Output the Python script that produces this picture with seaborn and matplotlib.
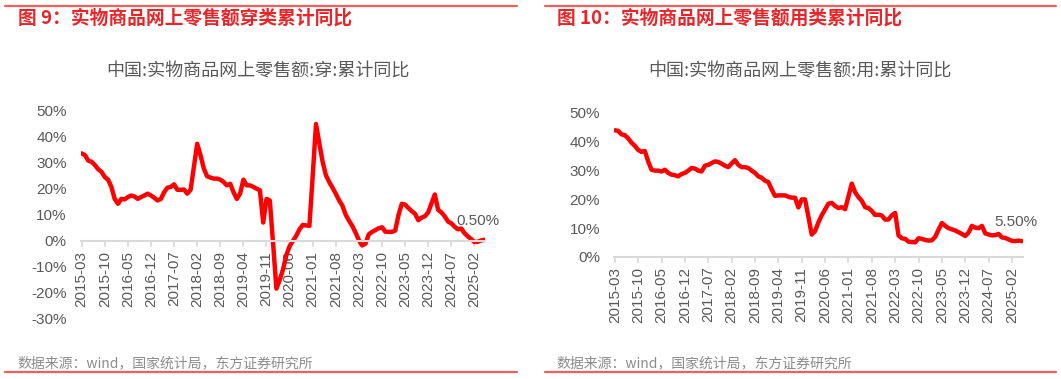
import matplotlib
matplotlib.use('Agg')
import matplotlib.pyplot as plt
from matplotlib.lines import Line2D
import seaborn as sns
import pandas as pd
import numpy as np

sns.set_theme(style='white')
plt.rcParams['font.family'] = ['Liberation Sans', 'Noto Sans CJK SC']
plt.rcParams['axes.unicode_minus'] = False

# ====== data (monthly, 2015-03 .. 2025-05)
months = pd.date_range('2015-03-01', '2025-05-01', freq='MS').strftime('%Y-%m').tolist()

wear = [33.7, 33.0, 30.9, 30.5, 29.2, 27.6, 26.6, 24.6, 23.6, 20.8,
        16.2, 14.3, 16.2, 16.0, 16.9, 17.5, 17.1, 16.2, 16.9, 17.5,
        18.2, 17.5, 16.6, 15.6, 16.2, 18.8, 20.5, 20.8, 21.8, 19.7,
        19.7, 19.8, 18.2, 19.7, 28.5, 37.4, 33.0, 27.9, 24.9, 24.4,
        24.0, 24.0, 23.6, 22.7, 21.4, 22.0, 18.8, 16.2, 18.2, 23.6,
        21.4, 21.4, 20.8, 20.1, 19.5, 7.1, 16.2, 15.6, -1.0, -18.3,
        -15.0, -11.0, -5.5, -2.0, 0.0, 2.0, 4.5, 6.2, 6.0, 5.8,
        25.0, 45.0, 37.6, 30.5, 25.3, 22.7, 20.5, 18.2, 15.6, 13.6,
        10.1, 7.8, 5.8, 3.2, 0.3, -1.7, -1.0, 2.6, 3.5, 4.2,
        4.9, 5.3, 3.6, 3.5, 3.5, 4.0, 10.0, 14.3, 14.0, 12.7,
        11.5, 10.5, 8.0, 9.0, 9.5, 11.0, 14.5, 17.9, 12.0, 11.0,
        9.5, 7.5, 6.8, 5.5, 4.5, 4.8, 3.0, 1.8, 0.8, -0.4,
        -0.3, 0.2, 0.5]

use = [44.0, 43.8, 42.6, 42.3, 41.2, 39.7, 38.6, 37.2, 36.5, 36.8,
       33.2, 30.3, 30.0, 30.0, 29.7, 30.3, 29.2, 28.6, 28.4, 28.0,
       28.8, 29.2, 30.0, 30.9, 30.7, 30.0, 29.7, 31.7, 32.0, 32.6,
       33.2, 33.0, 32.4, 31.7, 31.2, 32.5, 33.6, 32.0, 31.2, 31.2,
       30.9, 30.0, 29.2, 28.0, 27.5, 26.5, 26.0, 23.5, 21.2, 21.4,
       21.4, 21.4, 20.9, 20.6, 20.6, 17.2, 20.0, 20.0, 14.0, 7.8,
       9.0, 12.0, 14.5, 16.5, 18.5, 18.8, 17.7, 17.0, 17.3, 16.6,
       21.0, 25.5, 22.5, 20.8, 19.5, 17.3, 17.0, 16.0, 14.6, 14.7,
       14.4, 13.0, 13.0, 14.5, 15.3, 7.5, 6.5, 6.3, 5.3, 5.2,
       5.1, 6.5, 6.3, 5.9, 5.7, 5.8, 7.0, 9.5, 11.8, 10.8,
       10.0, 9.6, 9.2, 8.6, 8.0, 7.3, 8.5, 10.8, 10.2, 10.0,
       10.8, 8.2, 7.8, 7.5, 7.6, 8.0, 6.8, 6.6, 6.1, 5.6,
       5.5, 5.7, 5.5]

panels = [
    dict(values=wear, heading='图 9：实物商品网上零售额穿类累计同比',
         title='中国:实物商品网上零售额:穿:累计同比', ylim=(-30, 50), end_label='0.50%'),
    dict(values=use, heading='图 10：实物商品网上零售额用类累计同比',
         title='中国:实物商品网上零售额:用:累计同比', ylim=(0, 50), end_label='5.50%'),
]

W, H = 1061, 379
fig = plt.figure(figsize=(W / 100, H / 100), dpi=100)

def fx(px):
    return px / W

def fy(py):
    return 1 - py / H

# axes boxes in pixels: left, right, top (50%), bottom (ylim[0])
boxes = [(80.7, 485.3, 111, 319), (613.8, 1023, 113, 257)]
panel_x = [(5, 517), (545, 1056)]
heading_x = [18, 557]
title_cx = [258, 800]

RED = '#ff0000'
GREY_TXT = '#595959'
AX_GREY = '#d9d9d9'
FRAME_RED = '#f0605a'

for p, box, (px0, px1), hx, tcx in zip(panels, boxes, panel_x, heading_x, title_cx):
    l, r, t, b = box
    ax = fig.add_axes([fx(l), fy(b), fx(r - l), fy(t) - fy(b)])
    df = pd.DataFrame({'idx': np.arange(len(months)), 'value': p['values']})
    sns.lineplot(data=df, x='idx', y='value', color=RED, linewidth=3.2, ax=ax,
                 solid_joinstyle='round', solid_capstyle='round')
    ax.set_xlim(-0.3, len(months) - 0.7)
    ax.set_ylim(*p['ylim'])
    yt = np.arange(p['ylim'][0], 51, 10)
    ax.set_yticks(yt)
    ax.set_yticklabels([f'{v}%' for v in yt])
    ticks = np.arange(0, len(months), 7)
    ax.set_xticks(ticks)
    ax.set_xticklabels([months[i] for i in ticks])
    ax.set_xlabel('')
    ax.set_ylabel('')
    for s in ['top', 'right', 'left']:
        ax.spines[s].set_visible(False)
    ax.spines['bottom'].set_position(('data', 0))
    ax.spines['bottom'].set_color(AX_GREY)
    ax.spines['bottom'].set_linewidth(1.5)
    ax.tick_params(axis='y', length=0, pad=10, labelsize=11, labelcolor=GREY_TXT)
    ax.tick_params(axis='x', length=4, width=1.2, color=AX_GREY, pad=3,
                   labelsize=11, labelcolor=GREY_TXT, bottom=True, labelrotation=90)
    for lab in ax.get_xticklabels():
        lab.set_ha('center')
        lab.set_va('top')
    ax.set_facecolor('none')

    last = len(months) - 1
    ax.annotate(p['end_label'], xy=(last, p['values'][-1]), xytext=(-6, 12),
                textcoords='offset pixels', ha='center', va='bottom',
                fontsize=11, color=GREY_TXT)

    # frame lines and texts
    fig.add_artist(Line2D([fx(px0), fx(px1)], [fy(6), fy(6)], color=FRAME_RED, lw=1.6))
    fig.add_artist(Line2D([fx(px0), fx(px1)], [fy(372), fy(372)], color=FRAME_RED, lw=1.6))
    fig.text(fx(hx), fy(18), p['heading'], ha='left', va='center', fontsize=13.5,
             fontweight='bold', color='#e8262a', family=['Noto Sans CJK SC'])
    fig.text(fx(tcx), fy(72), p['title'], ha='center', va='center', fontsize=13,
             color=GREY_TXT, family=['Noto Sans CJK SC'])
    fig.text(fx(hx - 1), fy(363), '数据来源：wind，国家统计局，东方证券研究所', ha='left',
             va='center', fontsize=10, color='#8c8c8c', family=['Noto Sans CJK SC'])

fig.savefig('out.png', dpi=100)
plt.close()
